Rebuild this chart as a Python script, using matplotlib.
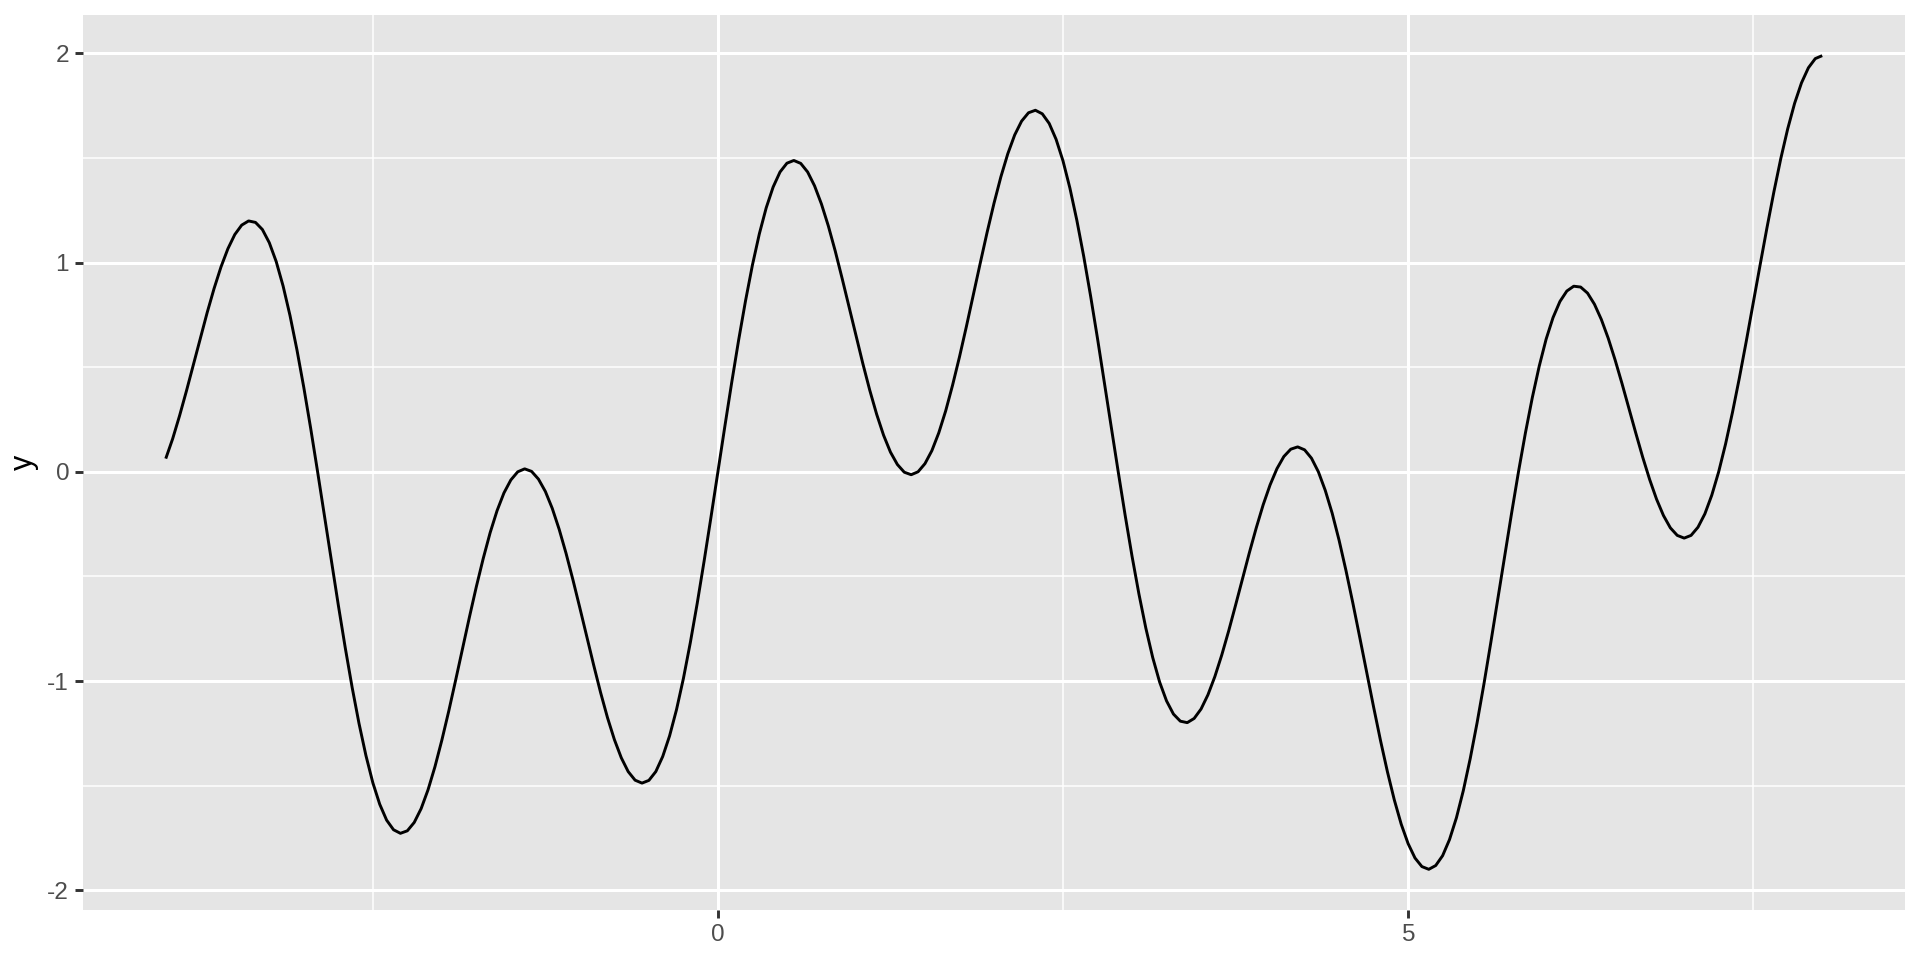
import numpy as np
import matplotlib
matplotlib.use("Agg")
import matplotlib.pyplot as plt
from matplotlib.ticker import FixedLocator

plt.rcParams['font.family'] = ['Liberation Sans', 'DejaVu Sans']

# x runs from -4 to 8 in steps of 0.05, y values
x_start, x_step = -4.0, 0.05
y_vals = [
    # x = -4.0 .. -0.05
    0.063, 0.158, 0.268, 0.387, 0.512, 0.638, 0.761, 0.876, 0.979, 1.066,
    1.134, 1.179, 1.199, 1.192, 1.158, 1.095, 1.005, 0.888, 0.747, 0.584,
    0.403, 0.207, 0.000, -0.212, -0.426, -0.637, -0.840, -1.030, -1.203, -1.356,
    -1.486, -1.589, -1.665, -1.711, -1.728, -1.716, -1.676, -1.610, -1.520, -1.410,
    -1.283, -1.144, -0.996, -0.845, -0.694, -0.549, -0.414, -0.291, -0.186, -0.101,
    -0.039, 0.000, 0.014, 0.002, -0.035, -0.094, -0.175, -0.275, -0.390, -0.517,
    -0.651, -0.788, -0.924, -1.055, -1.175, -1.280, -1.367, -1.433, -1.474, -1.488,
    -1.475, -1.433, -1.361, -1.262, -1.137, -0.988, -0.817, -0.629, -0.427, -0.216,
    # x = 0.0 .. 8.0
    0.000, 0.216, 0.427, 0.629, 0.817, 0.988, 1.137, 1.262, 1.361, 1.433,
    1.475, 1.488, 1.474, 1.433, 1.367, 1.280, 1.175, 1.055, 0.924, 0.788,
    0.651, 0.517, 0.390, 0.275, 0.175, 0.094, 0.035, -0.002, -0.014, 0.000,
    0.039, 0.101, 0.186, 0.291, 0.414, 0.549, 0.694, 0.845, 0.996, 1.144,
    1.283, 1.410, 1.520, 1.610, 1.676, 1.716, 1.728, 1.711, 1.665, 1.589,
    1.486, 1.356, 1.203, 1.030, 0.840, 0.637, 0.426, 0.212, 0.000, -0.207,
    -0.403, -0.584, -0.747, -0.888, -1.005, -1.095, -1.158, -1.192, -1.199, -1.179,
    -1.134, -1.066, -0.979, -0.876, -0.761, -0.638, -0.512, -0.387, -0.268, -0.158,
    -0.063, 0.015, 0.073, 0.108, 0.119, 0.105, 0.065, 0.000, -0.089, -0.198,
    -0.327, -0.472, -0.628, -0.792, -0.959, -1.124, -1.284, -1.433, -1.568, -1.684,
    -1.777, -1.846, -1.887, -1.900, -1.882, -1.835, -1.758, -1.654, -1.524, -1.371,
    -1.199, -1.012, -0.813, -0.608, -0.401, -0.197, 0.001, 0.186, 0.355, 0.505,
    0.634, 0.737, 0.814, 0.864, 0.887, 0.883, 0.854, 0.801, 0.728, 0.638,
    0.534, 0.421, 0.303, 0.184, 0.069, -0.037, -0.131, -0.209, -0.268, -0.304,
    -0.317, -0.304, -0.265, -0.201, -0.112, 0.000, 0.133, 0.284, 0.449, 0.624,
    0.806, 0.988, 1.167, 1.338, 1.497, 1.639, 1.761, 1.859, 1.931, 1.975,
    1.989,
]
x_vals = x_start + x_step * np.arange(len(y_vals))

x_major = [0, 5]
x_minor = [-2.5, 2.5, 7.5]
y_major = [-2, -1, 0, 1, 2]
y_minor = [-1.5, -0.5, 0.5, 1.5]

fig = plt.figure(figsize=(9.6, 4.8), dpi=200)
ax = fig.add_axes([0.0432, 0.0521, 0.949, 0.9323])
ax.set_facecolor('#E5E5E5')

# ggplot-like expansion of 5%
xr = x_vals.max() - x_vals.min()
yr = max(y_vals) - min(y_vals)
ax.set_xlim(x_vals.min() - 0.05 * xr, x_vals.max() + 0.05 * xr)
ax.set_ylim(min(y_vals) - 0.05 * yr, max(y_vals) + 0.05 * yr)

for v in x_minor:
    ax.axvline(v, color='white', lw=0.55, zorder=1)
for v in y_minor:
    ax.axhline(v, color='white', lw=0.55, zorder=1)
for v in x_major:
    ax.axvline(v, color='white', lw=1.1, zorder=1)
for v in y_major:
    ax.axhline(v, color='white', lw=1.1, zorder=1)

ax.plot(x_vals, y_vals, color='black', lw=1.05, zorder=3,
        solid_capstyle='butt', solid_joinstyle='round')

ax.xaxis.set_major_locator(FixedLocator(x_major))
ax.yaxis.set_major_locator(FixedLocator(y_major))
ax.set_xticklabels([str(v) for v in x_major])
ax.set_yticklabels([str(v) for v in y_major])
ax.tick_params(axis='both', length=2.75, width=1.05, color='#333333',
               labelcolor='#4D4D4D', labelsize=8.8, pad=2.2)

for s in ax.spines.values():
    s.set_visible(False)

ax.set_ylabel('y', fontsize=11, color='black', labelpad=3)

fig.savefig('out.png', dpi=200, facecolor='white')
